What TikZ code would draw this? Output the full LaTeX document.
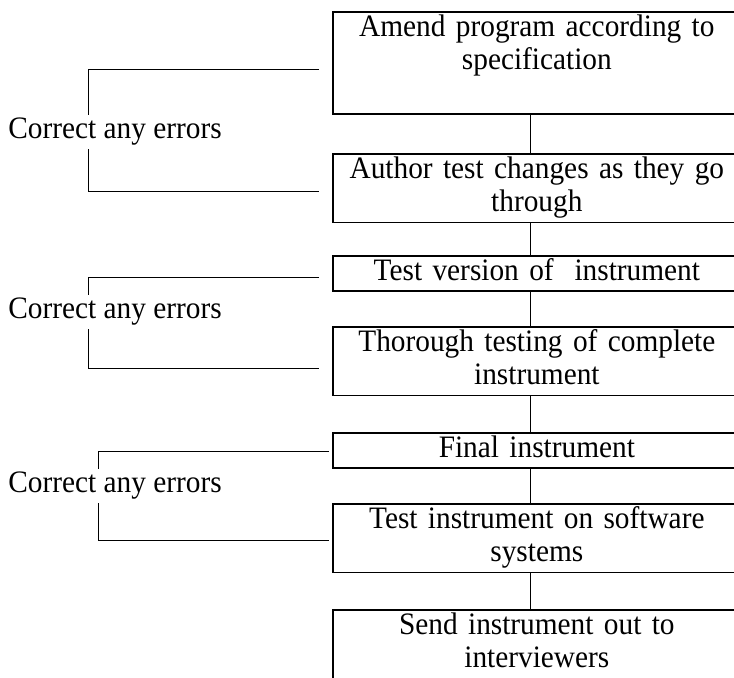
\documentclass[tikz,border=0pt]{standalone}
\usepackage{fontspec}
\setmainfont{Liberation Serif}[FakeStretch=0.94]
\usetikzlibrary{positioning}

\begin{document}
\begin{tikzpicture}[x=0.5pt, y=-0.5pt, font=\fontsize{15.6}{16.75}\selectfont]

  % Styles
  \tikzset{
    stepbox/.style={draw, line width=0.85pt, anchor=north west, text width=204pt, align=center,
      inner xsep=0pt, inner ysep=0.4pt, execute at begin node=\strut, execute at end node=\strut},
    note/.style={fill=white, anchor=west, inner xsep=0pt, inner ysep=0pt, execute at begin node=\strut},
    link/.style={line width=0.5pt}
  }

  \useasboundingbox (0,0) rectangle (734,677);

  % Process steps
  \node[stepbox] (amend) at (332,11) {Amend program according to\\ specification\\};
  \node[stepbox] (author) at (332,153) {Author test changes as they go\\ through};
  \node[stepbox] (version) at (332,255) {Test version of\ \ instrument};
  \node[stepbox] (thorough) at (332,326) {Thorough testing of complete\\ instrument};
  \node[stepbox] (final) at (332,432) {Final instrument};
  \node[stepbox] (software) at (332,503) {Test instrument on software\\ systems};
  \node[stepbox] (send) at (332,609) {Send instrument out to\\ interviewers};

  % Vertical links
  \coordinate (spine) at (530,0);
  \draw[link] (amend.south -| spine) -- (author.north -| spine);
  \draw[link] (author.south -| spine) -- (version.north -| spine);
  \draw[link] (version.south -| spine) -- (thorough.north -| spine);
  \draw[link] (thorough.south -| spine) -- (final.north -| spine);
  \draw[link] (final.south -| spine) -- (software.north -| spine);
  \draw[link] (software.south -| spine) -- (send.north -| spine);

  % Correction loops
  \coordinate (rail1) at (88,0);
  \coordinate (rail3) at (98,0);

  \coordinate (fix1a) at (319,69);
  \coordinate (fix1b) at (319,191);
  \draw[link] (fix1a) -- (fix1a -| rail1) -- (fix1b -| rail1) -- (fix1b);
  \node[note] (fix1) at (8,132) {Correct any errors};

  \coordinate (fix2a) at (319,277);
  \coordinate (fix2b) at (319,368);
  \draw[link] (fix2a) -- (fix2a -| rail1) -- (fix2b -| rail1) -- (fix2b);
  \node[note] (fix2) at (8,312) {Correct any errors};

  \coordinate (fix3a) at (329,451);
  \coordinate (fix3b) at (329,540);
  \draw[link] (fix3a) -- (fix3a -| rail3) -- (fix3b -| rail3) -- (fix3b);
  \node[note] (fix3) at (8,486) {Correct any errors};

\end{tikzpicture}
\end{document}
